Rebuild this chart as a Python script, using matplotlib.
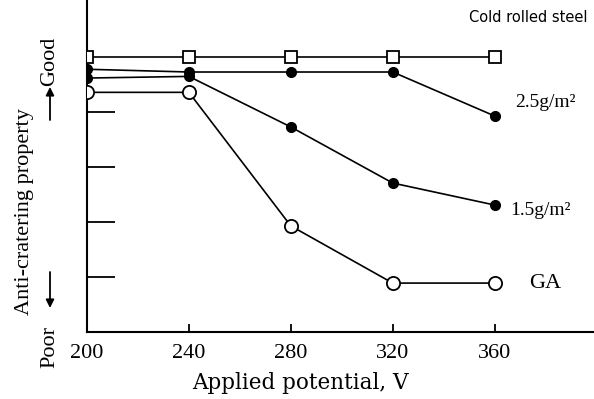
import matplotlib
matplotlib.use("Agg")
import matplotlib.pyplot as plt

potential = [200, 240, 280, 320, 360]
cold_rolled = [5.0, 5.0, 5.0, 5.0, 5.0]
coat_25 = [4.78, 4.73, 4.73, 4.73, 3.93]
coat_15 = [4.62, 4.65, 3.73, 2.71, 2.31]
ga = [4.36, 4.36, 1.93, 0.89, 0.89]
xticks = [200, 240, 280, 320, 360]
yticks = [1, 2, 3, 4]

serif = ['Liberation Serif', 'DejaVu Sans']

W, H = 594, 399
fig = plt.figure(figsize=(W / 100, H / 100), dpi=100)
ax = fig.add_axes([87/W, 67/H, 1 - 87/W, 332/H])

def fx(px):
    return px / W

def fy(py):
    return 1 - py / H

lw = 1.2
ax.plot(potential, cold_rolled, color='black', lw=lw, marker='s', ms=8,
        mfc='white', mec='black', mew=1.3, zorder=3)
ax.plot(potential, coat_25, color='black', lw=lw, marker='o', ms=7,
        mfc='black', mec='black', zorder=3)
ax.plot(potential, coat_15, color='black', lw=lw, marker='o', ms=7,
        mfc='black', mec='black', zorder=3)
ax.plot(potential, ga, color='black', lw=lw, marker='o', ms=9.5,
        mfc='white', mec='black', mew=1.3, zorder=3)

ax.set_xlim(200, 399)
ax.set_ylim(0, 6.04)
for s in ['top', 'right']:
    ax.spines[s].set_visible(False)
for s in ['left', 'bottom']:
    ax.spines[s].set_linewidth(1.5)

ax.set_xticks(xticks)
ax.set_xticklabels([str(v) for v in xticks], family=serif, fontsize=16)
ax.tick_params(axis='x', direction='in', length=6, width=1.3, pad=9)
ax.set_yticks(yticks)
ax.set_yticklabels([])
ax.tick_params(axis='y', direction='in', length=20, width=1.3)

# x-axis title (placed off-centre as in the original)
fig.text(fx(300), fy(383), 'Applied potential, V', ha='center', va='center',
         family=['DejaVu Serif'], fontsize=15.5)

# y-axis title and Good/Poor indicators
fig.text(fx(25), fy(212), 'Anti-cratering property', rotation=90,
         ha='center', va='center', family=serif, fontsize=16)
fig.text(fx(50), fy(61), 'Good', rotation=90,
         ha='center', va='center', family=serif, fontsize=16)
fig.text(fx(50), fy(347), 'Poor', rotation=90,
         ha='center', va='center', family=serif, fontsize=16)
arrow = dict(arrowstyle='-|>', color='black', lw=1.3, mutation_scale=12,
             shrinkA=0, shrinkB=0)
fig.add_artist(matplotlib.patches.FancyArrowPatch(
    (fx(50), fy(120)), (fx(50), fy(87)), transform=fig.transFigure, **arrow))
fig.add_artist(matplotlib.patches.FancyArrowPatch(
    (fx(50), fy(272)), (fx(50), fy(308)), transform=fig.transFigure, **arrow))

fig.text(fx(528), fy(18), 'Cold rolled steel', ha='center', va='center',
         family=['DejaVu Sans'], fontsize=10.5)
ax.annotate('2.5g/m\u00b2', xy=(360, coat_25[-1]), xytext=(15, 10),
            textcoords='offset points', family=serif, fontsize=14,
            ha='left', va='center')
ax.annotate('1.5g/m\u00b2', xy=(360, coat_15[-1]), xytext=(11, -4),
            textcoords='offset points', family=serif, fontsize=14,
            ha='left', va='center')
ax.annotate('GA', xy=(360, ga[-1]), xytext=(25, 0),
            textcoords='offset points', family=serif, fontsize=16,
            ha='left', va='center')

fig.savefig('out.png', dpi=100)
